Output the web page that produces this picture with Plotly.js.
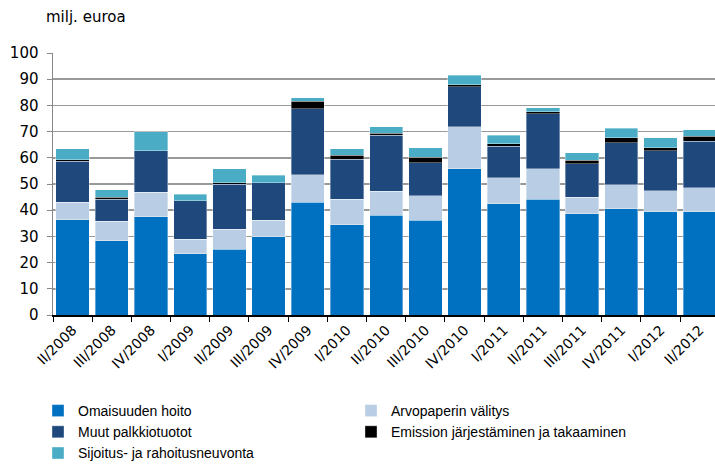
<!DOCTYPE html>
<html>
<head>
<meta charset="utf-8">
<script src="https://cdn.plot.ly/plotly-3.0.1.min.js"></script>
<style>html,body{margin:0;padding:0;background:#fff;}#chart{width:715px;height:467px;}</style>
</head>
<body>
<div id="chart"></div>
<script>
const quarters = ["II/2008","III/2008","IV/2008","I/2009","II/2009","III/2009","IV/2009","I/2010","II/2010","III/2010","IV/2010","I/2011","II/2011","III/2011","IV/2011","I/2012","II/2012"];
const omaisuudenHoito = [36.3,28.3,37.5,23.3,25.1,29.9,43.1,34.4,38.1,36.2,55.9,42.4,44.2,38.7,40.5,39.4,39.4];
const arvopaperinValitys = [6.8,7.4,9.3,5.6,7.7,6.3,10.4,9.8,9.2,9.3,15.9,9.9,11.7,6.3,9.3,8.0,9.2];
const muutPalkkiotuotot = [15.5,8.5,15.8,14.8,17.2,14.2,25.2,15.3,21.4,12.7,15.4,12.2,21.0,12.7,15.9,15.3,17.8];
const emission = [0.7,0.8,0.0,0.0,0.5,0.0,2.9,1.4,0.6,2.1,0.6,0.8,0.6,1.3,1.9,1.2,1.8];
const sijoitusneuvonta = [4.1,2.9,7.3,2.3,5.3,2.9,1.3,2.5,2.5,3.6,3.7,3.3,1.7,2.9,3.6,3.7,2.5];

const seriesNames = ["Omaisuuden hoito","Arvopaperin välitys","Muut palkkiotuotot","Emission järjestäminen ja takaaminen","Sijoitus- ja rahoitusneuvonta"];
const seriesValues = [omaisuudenHoito, arvopaperinValitys, muutPalkkiotuotot, emission, sijoitusneuvonta];
const seriesColors = ["#0070C0","#B9CDE5","#1F497D","#000000","#4BACC6"];

const traces = seriesNames.map((n,i)=>({
  type:'bar', name:n, x:quarters, y:seriesValues[i],
  marker:{color:seriesColors[i], line:{color:'rgba(255,255,255,0.6)', width:0.6}},
  hoverinfo:'skip'
}));

const layout = {
  width:715, height:467,
  margin:{l:53, r:0, t:53, b:152, pad:0},
  paper_bgcolor:'#fff', plot_bgcolor:'#fff',
  barmode:'stack', bargap:0.15,
  font:{family:'DejaVu Sans, sans-serif', color:'#000'},
  title:{text:'milj. euroa', font:{size:15, family:'DejaVu Sans', color:'#000'},
         xref:'container', yref:'container', x:46/715, xanchor:'left', y:1-17/467, yanchor:'middle'},
  xaxis:{type:'category', range:[-0.5,16.39], tickson:'boundaries', ticks:'outside', ticklen:5, tickcolor:'#000', tickwidth:1,
         showline:true, linecolor:'#000', linewidth:1.5, tickangle:-45, tickfont:{size:14, family:'DejaVu Sans', color:'#000'},
         showgrid:false, fixedrange:true},
  yaxis:{range:[0,100], dtick:10, tick0:0, ticks:'outside', ticklen:5, tickcolor:'#888', tickwidth:1,
         showline:true, linecolor:'#888', linewidth:1.5, showgrid:true, gridcolor:'#999', gridwidth:1.5,
         zeroline:false, tickfont:{size:15, family:'DejaVu Sans', color:'#000'}, ticklabelstandoff:5, fixedrange:true},
  showlegend:true,
  legend:{orientation:'h', traceorder:'normal', xref:'container', yref:'container', x:38/715, xanchor:'left',
          y:1-395/467, yanchor:'top', entrywidth:268, itemwidth:30, font:{size:14, family:'Liberation Sans, Arial', color:'#000'},
          bgcolor:'rgba(0,0,0,0)'}
};

Plotly.newPlot('chart', traces, layout, {staticPlot:true, displayModeBar:false});
</script>
</body>
</html>
